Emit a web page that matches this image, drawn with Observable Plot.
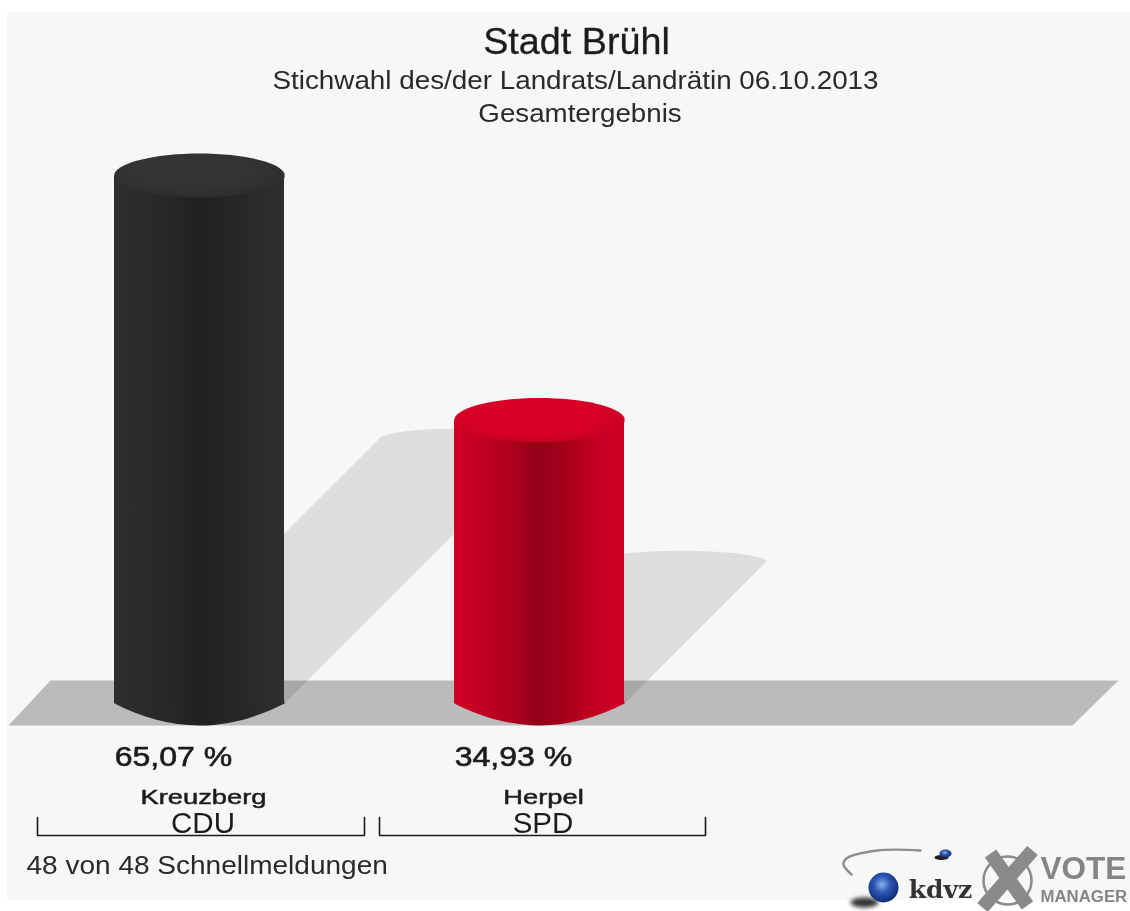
<!DOCTYPE html>
<html lang="de">
<head>
<meta charset="utf-8">
<title>Stadt Brühl – Stichwahl</title>
<script src="https://cdn.jsdelivr.net/npm/d3@7"></script>
<script src="https://cdn.jsdelivr.net/npm/@observablehq/plot@0.6"></script>
<style>
  html, body { margin: 0; padding: 0; background: #fff; }
  #chart svg { display: block; background: #fff; }
</style>
</head>
<body>
<div id="chart"></div>
<script>
// --- chart values ---
const candidates = ["Kreuzberg", "Herpel"];
const parties = ["CDU", "SPD"];
const shares = [65.07, 34.93];
const shareLabels = ["65,07 %", "34,93 %"];
const slots = [0, 1];
const titleLines = ["Stadt Brühl", "Stichwahl des/der Landrats/Landrätin 06.10.2013", "Gesamtergebnis"];
const footerText = "48 von 48 Schnellmeldungen";

// --- frame: x is a candidate slot, y is the percentage share ---
const W = 1130, H = 911;
const x0 = 199, step = 340, y0 = 703, perPct = 8.115;
const sx = px => (px - x0) / step;
const sy = py => (y0 - py) / perPct;
const halfW = 85, capRy = 22;
const ink = "#1c1c1c";
const soft = "blur(0.4px)";
const font = "'Liberation Sans', Arial, sans-serif";

const rows = slots.map(i => ({slot: i, name: candidates[i], party: parties[i], share: shares[i], label: shareLabels[i]}));

const ellipse = (rx, ry) => ({
  draw(c) {
    const k = 0.5523;
    c.moveTo(-rx, 0);
    c.bezierCurveTo(-rx, -ry * k, -rx * k, -ry, 0, -ry);
    c.bezierCurveTo(rx * k, -ry, rx, -ry * k, rx, 0);
    c.bezierCurveTo(rx, ry * k, rx * k, ry, 0, ry);
    c.bezierCurveTo(-rx * k, ry, -rx, ry * k, -rx, 0);
    c.closePath();
  }
});
// The foot of a cylinder: a shallow lens below the straight sides.
const foot = (rx, ry) => ({
  draw(c) {
    c.moveTo(-rx, -2);
    c.lineTo(-rx, 0);
    c.bezierCurveTo(-rx * .7, ry * .6, -rx * .35, ry, 0, ry);
    c.bezierCurveTo(rx * .35, ry, rx * .7, ry * .6, rx, 0);
    c.lineTo(rx, -2);
    c.closePath();
  }
});
// The cap of a cylinder: rounded at the rim.
const cap = (rx, ry) => ({
  draw(c) {
    const t = 2;
    c.moveTo(-rx, t);
    c.lineTo(-rx, -t);
    c.bezierCurveTo(-rx * .94, -ry * .62, -rx * .5, -ry, 0, -ry);
    c.bezierCurveTo(rx * .5, -ry, rx * .94, -ry * .62, rx, -t);
    c.lineTo(rx, t);
    c.bezierCurveTo(rx * .94, ry * .62, rx * .5, ry, 0, ry);
    c.bezierCurveTo(-rx * .5, ry, -rx * .94, ry * .62, -rx, t);
    c.closePath();
  }
});

// Cast shadow: the cylinder sheared to half its height at 45 degrees.
function shadowOutline(d) {
  const h = d.share * perPct / 2;
  const pts = [];
  pts.push({x: d.slot - halfW / step, y: 0});
  for (let a = 180; a >= 0; a -= 6) {
    const r = a * Math.PI / 180;
    pts.push({
      x: d.slot + (h + halfW * Math.cos(r)) / step,
      y: (h + (capRy / 2) * Math.sin(r)) / perPct
    });
  }
  pts.push({x: d.slot + halfW / step, y: 0});
  return pts.map(p => ({...p, slot: d.slot}));
}

const floor = [[50, 680], [1118, 680], [1072, 725], [8, 725]].map(([a, b]) => ({x: sx(a), y: sy(b)}));
const panel = {x1: sx(7), x2: sx(1130), y1: sy(12), y2: sy(900)};
const bracketEnds = [[37, 364], [379, 705]];
const bracketY = 835, bracketTop = 817;
const brackets = bracketEnds.flatMap(([a, b], i) => [[a, bracketTop], [a, bracketY], [b, bracketY], [b, bracketTop]]
  .map(([px, py]) => ({x: sx(px), y: sy(py), slot: i})));

const gradients = () => {
  const svg = d3.create("svg:g");
  const defs = svg.append("defs");
  const linear = (id, stops) => {
    const g = defs.append("linearGradient").attr("id", id);
    stops.forEach(([o, c]) => g.append("stop").attr("offset", o).attr("stop-color", c));
  };
  const radial = (id, stops) => {
    const g = defs.append("radialGradient").attr("id", id).attr("cx", "45%").attr("cy", "40%").attr("r", "62%");
    stops.forEach(([o, c]) => g.append("stop").attr("offset", o).attr("stop-color", c));
  };
  linear("side0", [[0, "#2e2e2e"], [.1, "#2c2c2c"], [.35, "#272727"], [.49, "#202020"], [.66, "#252525"], [.86, "#2b2b2b"], [1, "#2e2e2e"]]);
  linear("side1", [[0, "#cf0026"], [.09, "#c90023"], [.35, "#ad001e"], [.485, "#930018"], [.66, "#a8001d"], [.86, "#c80023"], [1, "#cd0024"]]);
  radial("cap0", [[0, "#343434"], [.6, "#333333"], [1, "#2d2d2d"]]);
  radial("cap1", [[0, "#da0028"], [.6, "#d80027"], [1, "#c90023"]]);
  radial("ball", [[0, "#8fb0ea"], [.45, "#2c55b4"], [1, "#0f2a6e"]]);
  return svg.node();
};

const dim = {fill: "#000", fillOpacity: 0.1, stroke: "none"};
const logoBlur = "blur(0.7px)";

const marks = [
  gradients,
  Plot.rect([panel], {x1: "x1", x2: "x2", y1: "y1", y2: "y2", fill: "#f7f7f7"}),
  Plot.line(floor.concat(floor[0]), {x: "x", y: "y", fill: "#bbbbbb", stroke: "none"}),
  Plot.line(rows.flatMap(shadowOutline), {x: "x", y: "y", z: "slot", curve: "linear", ...dim}),

  // Cylinders
  ...rows.flatMap(d => [
    Plot.dot([d], {x: "slot", y: 0, fill: `url(#side${d.slot})`, stroke: "none", symbol: foot(halfW, capRy)}),
    Plot.rectY([d], {x1: d.slot - 0.25, x2: d.slot + 0.25, y1: 0, y2: "share", fill: `url(#side${d.slot})`}),
    Plot.dot([d], {x: "slot", y: "share", fill: `url(#cap${d.slot})`, stroke: "none", symbol: cap(halfW, capRy), imageFilter: "blur(0.6px)"})
  ]),

  // Title block
  Plot.text(titleLines.slice(0, 1), {x: sx(576), y: sy(42), text: d => d, fontSize: 37, fill: ink, stroke: ink, strokeWidth: 0.3, fontFamily: font, imageFilter: soft}),
  Plot.text(titleLines.slice(1, 2), {x: sx(575), y: sy(80), text: d => d, fontSize: 26.5, fill: "#2a2a2a", fontFamily: font, imageFilter: soft}),
  Plot.text(titleLines.slice(2), {x: sx(579.5), y: sy(113), text: d => d, fontSize: 26.5, fill: "#2a2a2a", fontFamily: font, imageFilter: soft}),

  // Value, candidate and party labels
  Plot.text(rows, {x: "slot", y: sy(757), dx: -26, text: "label", fontSize: 27.5, fill: ink, stroke: ink, strokeWidth: 0.6, fontFamily: font, imageFilter: soft}),
  Plot.text(rows, {x: "slot", y: sy(797), dx: 4, text: "name", fontSize: 21, fill: ink, stroke: ink, strokeWidth: 0.5, fontFamily: font, imageFilter: soft}),
  Plot.text(rows, {x: "slot", y: sy(823), dx: 3.5, text: "party", fontSize: 29.5, fill: ink, fontFamily: font, imageFilter: soft}),
  Plot.line(brackets, {x: "x", y: "y", z: "slot", stroke: "#1a1a1a", strokeWidth: 1.6, strokeLinejoin: "miter"}),
  Plot.text([footerText], {x: sx(26), y: sy(865), text: d => d, textAnchor: "start", fontSize: 26, fill: "#2a2a2a", fontFamily: font, imageFilter: soft}),

  // Logos
  Plot.line([[920, 850], [877, 850], [846, 858], [843, 864], [851, 874]].map(([a, b]) => ({x: sx(a), y: sy(b)})),
    {x: "x", y: "y", curve: "catmull-rom", stroke: "#8e8e8e", strokeWidth: 2.4, imageFilter: logoBlur}),
  Plot.dot([{x: sx(864), y: sy(902)}], {x: "x", y: "y", fill: "#333", stroke: "none", symbol: ellipse(14, 5), imageFilter: "blur(2px)"}),
  Plot.dot([{x: sx(883), y: sy(887)}], {x: "x", y: "y", r: 15, fill: "url(#ball)", stroke: "none", imageFilter: logoBlur}),
  Plot.dot([{x: sx(941), y: sy(857)}], {x: "x", y: "y", fill: "#222", stroke: "none", symbol: ellipse(7, 2.5), imageFilter: logoBlur}),
  Plot.dot([{x: sx(945), y: sy(853)}], {x: "x", y: "y", fill: "url(#ball)", stroke: "none", symbol: ellipse(6, 4), imageFilter: logoBlur}),
  Plot.text(["kdvz"], {x: sx(940), y: sy(889), text: d => d, fontSize: 25, fontWeight: 700, fontFamily: "'DejaVu Serif', serif", fill: "#333", imageFilter: logoBlur}),
  Plot.dot([{x: sx(1007), y: sy(880)}], {x: "x", y: "y", r: 24, fill: "none", stroke: "#8a8a8a", strokeWidth: 2.5, imageFilter: logoBlur}),
  Plot.line([[990, 853], [1027, 905]].map(([a, b]) => ({x: sx(a), y: sy(b)})), {x: "x", y: "y", stroke: "#8a8a8a", strokeWidth: 14, strokeLinecap: "butt", imageFilter: logoBlur}),
  Plot.line([[1032, 850], [982, 907]].map(([a, b]) => ({x: sx(a), y: sy(b)})), {x: "x", y: "y", stroke: "#8a8a8a", strokeWidth: 14, strokeLinecap: "butt", imageFilter: logoBlur}),
  Plot.text(["VOTE"], {x: sx(1040), y: sy(868), text: d => d, textAnchor: "start", fontSize: 31.5, fontWeight: 700, fontFamily: font, fill: "#858585", imageFilter: logoBlur}),
  Plot.text(["MANAGER"], {x: sx(1040), y: sy(896), text: d => d, textAnchor: "start", fontSize: 16.8, fontWeight: 700, fontFamily: font, fill: "#858585", imageFilter: logoBlur})
];

const plot = Plot.plot({
  width: W,
  height: H,
  margin: 0,
  x: {domain: [sx(0), sx(W)], range: [0, W], axis: null},
  y: {domain: [sy(H), sy(0)], range: [H, 0], axis: null},
  style: {background: "#fff"},
  marks
});
document.getElementById("chart").append(plot);

// The reference's lettering is wider than the installed font: widen each label in place.
const widen = new Map([
  [titleLines[0], 1.02], [titleLines[1], 1.05], [titleLines[2], 1.046],
  [shareLabels[0], 1.165], [shareLabels[1], 1.165],
  [candidates[0], 1.3], [candidates[1], 1.3],
  [footerText, 1.078]
]);
d3.select(plot).selectAll("text").each(function () {
  const k = widen.get(this.textContent);
  if (k) {
    const t = this.getAttribute("transform");
    this.setAttribute("transform", `${t ? t + " " : ""}scale(${k},1)`);
  }
});
</script>
</body>
</html>
